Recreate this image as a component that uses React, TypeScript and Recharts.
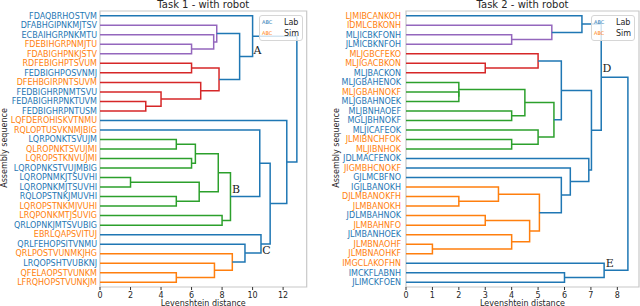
import React from 'react';
import { ScatterChart, Scatter, XAxis, YAxis, ReferenceArea, ReferenceDot, Legend } from 'recharts';

const PALETTE: Record<string, string> = {
  C0: '#1f77b4',
  C1: '#ff7f0e',
  C2: '#2ca02c',
  C3: '#d62728',
  C4: '#9467bd',
};
const LAB = '#1f77b4';
const SIM = '#ff7f0e';

// ---- Task 1 ----
const task1Leaves = [
  'FDAQBRHOSTVM', 'DFABHGIPNKMJTSV', 'ECBAIHGRPNKMTU', 'FDEBIHGRPNMJTU', 'FDABIGHPNKJSTV',
  'RDFEBIGHPTSVUM', 'FEDBIGHPOSVNMJ', 'DFEHBGIRPNTSUVM', 'FEDBIGHRPNMTSVU', 'FEDABIGHRPNKTUVM',
  'FEDBIGHRPNTUSM', 'LQFDEROHISKVTNMU', 'RQLOPTUSVKNMJBIG', 'LQRPONKTSVUJM', 'QLROPNKTSVUJMI',
  'LQROPSTKNVUJMI', 'LQROPNKSTVUJMBIG', 'LQROPNMKJTSUVHI', 'LQROPNKMJTSUVHI', 'RQLOPSTNKJMUVHI',
  'LQROPSTNKMJVUHI', 'LRQPONKMTJSUVIG', 'QRLOPNKJMTSVUBIG', 'EBRLQAPSVITUJ', 'QRLFEHOPSITVNMU',
  'QRLPOSTVUNMKJHG', 'LRQOPSHTVUBKNJ', 'QFELAOPSTVUNKM', 'LFRQHOPSTVUNKJM',
];
const task1Origin = 'LLLSSSLSLLLSSLSSLLLLSSLSLSLSS'.split('');
// [child, child] - leaves are 0..28, merged clusters 29.. in order
const task1Pairs: [number, number][] = [
  [3, 4], [2, 29], [1, 30], [5, 6], [9, 10], [8, 33], [7, 34], [32, 35], [31, 36], [0, 37],
  [13, 14], [15, 16], [39, 40], [17, 18], [19, 20], [42, 43], [41, 44], [21, 22], [45, 46], [12, 47],
  [27, 28], [26, 49], [25, 50], [24, 51], [23, 52], [48, 53], [11, 54], [38, 55],
];
const task1Heights = [
  6.0, 7.45, 7.65, 6.0, 3.0, 4.0, 6.6, 7.8, 9.15, 10.0,
  5.0, 6.0, 6.25, 2.0, 5.0, 6.5, 7.75, 8.0, 8.55, 10.47,
  5.0, 7.5, 8.67, 9.5, 10.55, 11.15, 12.24, 12.9,
];
const task1Colors = [
  'C4', 'C4', 'C4', 'C3', 'C3', 'C3', 'C3', 'C3', 'C0', 'C0',
  'C2', 'C2', 'C2', 'C2', 'C2', 'C2', 'C2', 'C2', 'C2', 'C0',
  'C1', 'C1', 'C1', 'C0', 'C0', 'C0', 'C0', 'C0',
];
const task1Ticks = [0, 2, 4, 6, 8, 10, 12];
const task1Notes = [
  { text: 'A', d: 10.32, pos: 3.6 },
  { text: 'B', d: 8.92, pos: 18.25 },
  { text: 'C', d: 10.9, pos: 24.64 },
];

// ---- Task 2 ----
const task2Leaves = [
  'LJMIBCANKOH', 'IDMLCBKONH', 'MLJICBKFONH', 'JLMICBKNFOH', 'MLJGBCFEKO',
  'MLJIGACBKON', 'MLJBACKON', 'MLJGBAHENOK', 'MLJGBAHNOKF', 'MLJGBAHNOEK',
  'MLJBNHAOEF', 'MGLJBHNOKF', 'MLJICAFEOK', 'JLMIBNCHFOK', 'MLJIBNHOK',
  'JDLMACFENOK', 'JIGMBHCNOKF', 'GJLMCBFNO', 'IGJLBANOKH', 'DJLMBANOKFH',
  'JLMBANOKH', 'JDLMBAHNOK', 'JLMBAHNFO', 'JLMBANHOEK', 'JLMBNAOHF',
  'JLMBNAOHKF', 'IMGCLAKOFHN', 'IMCKFLABNH', 'JLIMCKFOEN',
];
const task2Origin = 'SSLLSSLLSLLLLSSLSLLSSLSLSSSLL'.split('');
const task2Pairs: [number, number][] = [
  [2, 3], [1, 29], [0, 30], [5, 6], [4, 32], [8, 9], [7, 34], [10, 11], [35, 36], [13, 14],
  [12, 38], [37, 39], [33, 40], [19, 20], [18, 42], [21, 22], [24, 25], [23, 45], [44, 46], [43, 47],
  [17, 48], [16, 49], [15, 50], [41, 51], [31, 52], [27, 28], [26, 54], [53, 55],
];
const task2Heights = [
  4.0, 5.52, 6.66, 3.0, 5.0, 2.0, 2.0, 4.0, 4.5, 4.0,
  5.0, 5.6, 5.88, 2.0, 3.5, 3.0, 1.0, 4.0, 4.68, 5.05,
  5.88, 6.22, 6.92, 7.02, 7.39, 6.0, 7.5, 8.4,
];
const task2Colors = [
  'C4', 'C4', 'C0', 'C3', 'C3', 'C2', 'C2', 'C2', 'C2', 'C2',
  'C2', 'C2', 'C0', 'C1', 'C1', 'C1', 'C1', 'C1', 'C1', 'C1',
  'C0', 'C0', 'C0', 'C0', 'C0', 'C0', 'C0', 'C0',
];
const task2Ticks = [0, 1, 2, 3, 4, 5, 6, 7, 8];
const task2Notes = [
  { text: 'D', d: 7.61, pos: 5.53 },
  { text: 'E', d: 7.71, pos: 26.04 },
];

const FONT = 'DejaVu Sans';

// scipy-style U links: each child sits at its leaf slot or the midpoint of its children
function buildLinks(n: number, pairs: [number, number][], heights: number[], colors: string[]) {
  const pos: number[] = [];
  const hgt: number[] = [];
  for (let i = 0; i < n; i++) {
    pos[i] = i;
    hgt[i] = 0;
  }
  return pairs.map(([a, b], k) => {
    const id = n + k;
    const h = heights[k];
    pos[id] = (pos[a] + pos[b]) / 2;
    hgt[id] = h;
    return {
      color: PALETTE[colors[k]],
      points: [
        { x: hgt[a], y: pos[a] },
        { x: h, y: pos[a] },
        { x: h, y: pos[b] },
        { x: hgt[b], y: pos[b] },
      ],
    };
  });
}

const LeafTick = (props: any) => {
  const { x, y, payload, leaves, origin } = props;
  const i = payload.value as number;
  return (
    <text x={x} y={y} dy="0.35em" textAnchor="end" fontSize={8} fontFamily={FONT} fill={origin[i] === 'L' ? LAB : SIM}>
      {leaves[i]}
    </text>
  );
};

const SideTitle = ({ px, py }: { px: number; py: number }) => (
  <text x={px} y={py} transform={`rotate(-90 ${px} ${py})`} textAnchor="middle" dominantBaseline="central" fontSize={8} fontFamily={FONT} fill="#262626">
    Assembly sequence
  </text>
);

const BottomTitle = ({ px, py }: { px: number; py: number }) => (
  <text x={px} y={py} textAnchor="middle" fontSize={8} fontFamily={FONT} fill="#262626">
    Levenshtein distance
  </text>
);

const LegendBox = () => (
  <svg width={44} height={26} style={{ display: 'block' }}>
    <rect x={0.5} y={0.5} width={43} height={25} rx={2.5} fill="rgba(255,255,255,0.8)" stroke="#d6d6d6" />
    <text x={3} y={8.8} fontSize={5} fontFamily={FONT} fill={LAB}>ABC</text>
    <text x={25} y={9.9} fontSize={8} fontFamily={FONT} fill="#262626">Lab</text>
    <text x={3} y={20} fontSize={5} fontFamily={FONT} fill={SIM}>ABC</text>
    <text x={25} y={21.1} fontSize={8} fontFamily={FONT} fill="#262626">Sim</text>
  </svg>
);

interface PanelProps {
  title: string;
  left: number;
  axisWidth: number;
  rightMargin: number;
  titleX: number;
  sideX: number;
  leaves: string[];
  origin: string[];
  pairs: [number, number][];
  heights: number[];
  colors: string[];
  ticks: number[];
  notes: { text: string; d: number; pos: number }[];
}

const Panel: React.FC<PanelProps> = (p) => {
  const n = p.leaves.length;
  const links = buildLinks(n, p.pairs, p.heights, p.colors);
  const xMax = Math.max(...p.heights) * 1.05;
  const leafIdx = p.leaves.map((_l, i) => i);
  const W = 320;
  const plotRight = W - p.rightMargin;

  return (
    <div style={{ position: 'absolute', left: p.left, top: 0, width: W, height: 306 }}>
      <div
        style={{
          position: 'absolute', left: p.titleX - 100, top: 0, width: 200, textAlign: 'center',
          fontSize: 10, lineHeight: '10px', fontFamily: FONT, color: '#262626',
        }}
      >
        {p.title}
      </div>
      <ScatterChart width={W} height={306} margin={{ top: 11, right: p.rightMargin, bottom: 0, left: 0 }}>
        <XAxis
          type="number"
          dataKey="x"
          domain={[0, xMax]}
          ticks={p.ticks}
          allowDataOverflow
          axisLine={false}
          tickSize={3}
          tickMargin={2}
          tickLine={{ stroke: '#333' }}
          tick={{ fontSize: 8, fill: '#262626', fontFamily: FONT }}
          height={19}
          label={<BottomTitle px={p.titleX} py={306} />}
        />
        <YAxis
          type="number"
          dataKey="y"
          reversed
          domain={[-0.5, n - 0.5]}
          ticks={leafIdx}
          interval={0}
          allowDataOverflow
          axisLine={false}
          tickLine={false}
          tickSize={0}
          tickMargin={p.axisWidth === 100 ? 3 : 5}
          width={p.axisWidth}
          tick={<LeafTick leaves={p.leaves} origin={p.origin} />}
          label={<SideTitle px={p.sideX} py={148} />}
        />
        <ReferenceArea x1={0} x2={xMax} y1={-0.5} y2={n - 0.5} fill="none" stroke="#c8c8c8" strokeWidth={1.2} />
        {links.map((lk, i) => (
          <Scatter
            key={`link-${i}`}
            data={lk.points}
            fill={lk.color}
            line={{ stroke: lk.color, strokeWidth: 1.5 }}
            shape={() => <g />}
            legendType="none"
            isAnimationActive={false}
          />
        ))}
        {p.notes.map((nt) => (
          <ReferenceDot
            key={nt.text}
            x={nt.d}
            y={nt.pos}
            r={1}
            fill="none"
            stroke="none"
            label={{ value: nt.text, position: 'center', fontSize: 11, fontFamily: 'DejaVu Serif', fill: '#1a1a1a' }}
          />
        ))}
        <Legend
          layout="vertical"
          align="center"
          verticalAlign="middle"
          content={() => <LegendBox />}
          wrapperStyle={{ left: plotRight - 48, top: 15, width: 44, height: 26 }}
        />
      </ScatterChart>
    </div>
  );
};

export default function App() {
  return (
    <div style={{ position: 'absolute', left: 0, top: 0, width: 640, height: 306, overflow: 'hidden', background: '#fff', fontFamily: FONT }}>
      <Panel
        title="Task 1 - with robot"
        left={0}
        axisWidth={100}
        rightMargin={13.3}
        titleX={203.3}
        sideX={4.5}
        leaves={task1Leaves}
        origin={task1Origin}
        pairs={task1Pairs}
        heights={task1Heights}
        colors={task1Colors}
        ticks={task1Ticks}
        notes={task1Notes}
      />
      <Panel
        title="Task 2 - with robot"
        left={320}
        axisWidth={86}
        rightMargin={1}
        titleX={202.5}
        sideX={16}
        leaves={task2Leaves}
        origin={task2Origin}
        pairs={task2Pairs}
        heights={task2Heights}
        colors={task2Colors}
        ticks={task2Ticks}
        notes={task2Notes}
      />
    </div>
  );
}
